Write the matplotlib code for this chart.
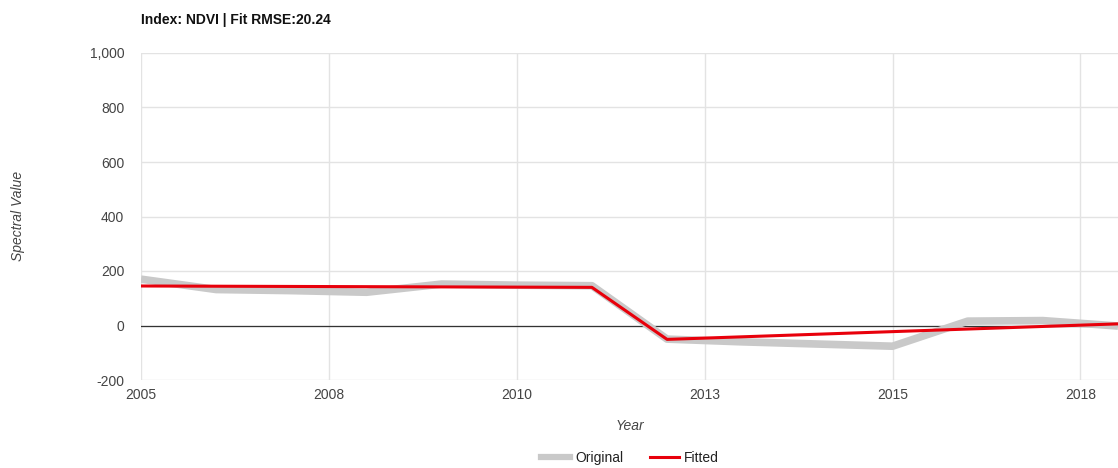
import matplotlib
matplotlib.use("Agg")
import matplotlib.pyplot as plt
from matplotlib.lines import Line2D

plt.rcParams['font.family'] = ['Liberation Sans', 'DejaVu Sans']

# Annual NDVI (scaled) values and the segmented fit
years = [2005, 2006, 2007, 2008, 2009, 2010, 2011, 2012, 2013, 2014, 2015, 2016, 2017, 2018]
original = [170, 132, 128, 122, 152, 148, 146, -50, -60, -68, -76, 16, 18, -2]

fit_years = [2005, 2011, 2012, 2018]
fitted = [145, 140, -51, 6]

x_ticks = [2005, 2007.5, 2010, 2012.5, 2015, 2017.5]
x_tick_labels = ["2005", "2008", "2010", "2013", "2015", "2018"]
y_ticks = [-200, 0, 200, 400, 600, 800, 1000]
y_tick_labels = ["-200", "0", "200", "400", "600", "800", "1,000"]

title = "Index: NDVI | Fit RMSE:20.24"

W, H = 1118, 468
fig = plt.figure(figsize=(W / 100, H / 100), dpi=100)
ax = fig.add_axes([141 / W, 1 - 380 / H, 1 - 141 / W, (380 - 53) / H])

grey = "#c9c9c9"
red = "#e8000b"
fs = 10

ax.plot(years, original, color=grey, lw=5.5, solid_joinstyle="round",
        solid_capstyle="butt", zorder=3)
ax.plot(fit_years, fitted, color=red, lw=2.2, zorder=4)
ax.axhline(0, color="#333333", lw=0.9, zorder=2)

ax.set_xlim(2005, 2018)
ax.set_ylim(-200, 1000)
ax.set_xticks(x_ticks)
ax.set_xticklabels(x_tick_labels)
ax.set_yticks(y_ticks)
ax.set_yticklabels(y_tick_labels)
ax.grid(True, color="#e3e3e3", lw=1.0, zorder=0)
ax.tick_params(length=0, labelsize=fs, colors="#444444", pad=6)
ax.tick_params(axis="y", pad=12)
for s in ax.spines.values():
    s.set_visible(False)

fig.text(141 / W, 1 - 20 / H, title, fontsize=fs, fontweight="bold",
         ha="left", va="center", color="#111111")
fig.text(18 / W, 1 - 216 / H, "Spectral Value", rotation=90, style="italic",
         fontsize=fs, color="#444444", ha="center", va="center")
fig.text(630 / W, 1 - 426 / H, "Year", style="italic", fontsize=fs,
         color="#444444", ha="center", va="center")

handles = [Line2D([], [], color=grey, lw=4.5), Line2D([], [], color=red, lw=2.2)]
fig.legend(handles, ["Original", "Fitted"], loc="center", ncol=2,
           bbox_to_anchor=(630 / W, 1 - 458 / H), frameon=False,
           fontsize=fs, handlelength=2.1, handletextpad=0.35,
           columnspacing=1.9, labelcolor="#222222")

fig.savefig("out.png", dpi=100, facecolor="white")
